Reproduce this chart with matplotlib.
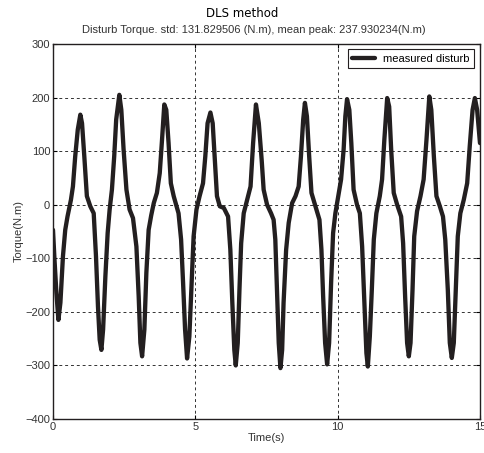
import numpy as np
import matplotlib
matplotlib.use("Agg")
import matplotlib.pyplot as plt

# measured disturbance torque samples (time in s, torque in N.m)
t = [0.00, 0.05, 0.12, 0.19, 0.26, 0.35, 0.43, 0.51, 0.63, 0.70, 0.78, 0.87, 0.96, 1.02,
     1.10, 1.19, 1.31, 1.43, 1.51, 1.58, 1.64, 1.70, 1.76, 1.84, 1.92, 1.99, 2.07, 2.15,
     2.22, 2.33, 2.40, 2.48, 2.58, 2.69, 2.81, 2.93, 3.01, 3.07, 3.13, 3.21, 3.28, 3.36,
     3.45, 3.54, 3.65, 3.75, 3.83, 3.91, 3.98, 4.06, 4.14, 4.24, 4.41, 4.50, 4.57, 4.64,
     4.71, 4.79, 4.86, 4.94, 5.04, 5.15, 5.27, 5.35, 5.43, 5.53, 5.61, 5.68, 5.76, 5.86,
     6.00, 6.15, 6.23, 6.30, 6.37, 6.42, 6.49, 6.55, 6.61, 6.70, 6.82, 6.94, 7.03, 7.13,
     7.23, 7.33, 7.40, 7.52, 7.66, 7.75, 7.81, 7.87, 7.93, 7.99, 8.05, 8.10, 8.19, 8.28,
     8.40, 8.52, 8.63, 8.71, 8.79, 8.85, 8.92, 9.00, 9.08, 9.22, 9.36, 9.43, 9.49, 9.56,
     9.63, 9.70, 9.77, 9.84, 9.92, 10.04, 10.12, 10.21, 10.27, 10.33, 10.41, 10.48, 10.56,
     10.68, 10.78, 10.86, 10.94, 11.01, 11.06, 11.13, 11.20, 11.27, 11.36, 11.48, 11.56,
     11.64, 11.74, 11.81, 11.88, 11.97, 12.09, 12.23, 12.30, 12.37, 12.44, 12.50, 12.56,
     12.63, 12.69, 12.79, 12.91, 13.02, 13.12, 13.22, 13.29, 13.38, 13.47, 13.59, 13.70,
     13.78, 13.87, 13.94, 14.01, 14.08, 14.15, 14.22, 14.31, 14.43, 14.55, 14.64, 14.74,
     14.82, 14.90, 15.00]
torque = [-47, -100, -165, -215, -183, -96, -47, -22, 9, 34, 90, 140, 168, 152,
          90, 16, -3, -16, -96, -190, -252, -271, -233, -134, -53, -9, 28, 90,
          159, 205, 177, 103, 28, -9, -25, -78, -171, -258, -283, -233, -127, -47,
          -20, 3, 22, 59, 121, 187, 177, 115, 40, 16, -16, -65, -146, -233,
          -287, -246, -159, -59, -9, 16, 40, 90, 152, 172, 152, 90, 16, -3,
          -6, -22, -84, -183, -271, -300, -258, -159, -72, -16, 9, 34, 115, 187,
          152, 84, 28, 0, -16, -28, -65, -159, -258, -305, -271, -183, -84, -34,
          3, 16, 34, 90, 159, 190, 165, 90, 22, -3, -28, -84, -171, -258,
          -298, -258, -146, -53, -16, 22, 47, 103, 165, 197, 177, 115, 28,
          0, -16, -78, -183, -277, -302, -246, -159, -65, -16, 16, 47,
          121, 199, 183, 103, 22, 0, -22, -72, -171, -258, -283, -258,
          -159, -59, -12, 16, 47, 121, 202, 177, 90, 16, -3, -22,
          -65, -159, -258, -286, -258, -159, -59, -16, 9, 40, 109, 177,
          199, 177, 115]

xticks = [0, 5, 10, 15]
yticks = [-400, -300, -200, -100, 0, 100, 200, 300]

plt.rcParams['font.family'] = ['Liberation Sans', 'DejaVu Sans']

fig = plt.figure(figsize=(4.84, 4.53), dpi=100)
ax = fig.add_axes([0.1095, 0.075, 0.8822, 0.828])

ax.plot(t, torque, color='#231f20', lw=3.1, label='measured disturb',
        solid_joinstyle='round', solid_capstyle='round')
ax.set_xlim(0, 15)
ax.set_ylim(-400, 300)
ax.set_xticks(xticks)
ax.set_yticks(yticks)
ax.tick_params(direction='in', labelsize=8, length=3, top=True, right=True, pad=2,
               labelcolor='#333333')
ax.grid(True, color='#333333', linestyle=(0, (3, 3)), linewidth=0.7)
for s in ax.spines.values():
    s.set_linewidth(1.0)
    s.set_color('#231f20')

ax.set_xlabel('Time(s)', fontsize=8, labelpad=1, color='#333333')
ax.set_ylabel('Torque(N.m)', fontsize=8, labelpad=1, color='#333333')

leg = ax.legend(loc='upper right', fontsize=8, fancybox=False, framealpha=1,
                edgecolor='#231f20', borderaxespad=0.5, handlelength=2.0,
                borderpad=0.4)
leg.get_frame().set_linewidth(0.8)

fig.text(0.5, 0.97, 'DLS method', ha='center', va='center', fontsize=8.5,
         family='DejaVu Sans')
fig.text(0.525, 0.934, 'Disturb Torque. std: 131.829506 (N.m), mean peak: 237.930234(N.m)',
         ha='center', va='center', fontsize=8, color='#333333')

fig.savefig('out.png', dpi=100)
